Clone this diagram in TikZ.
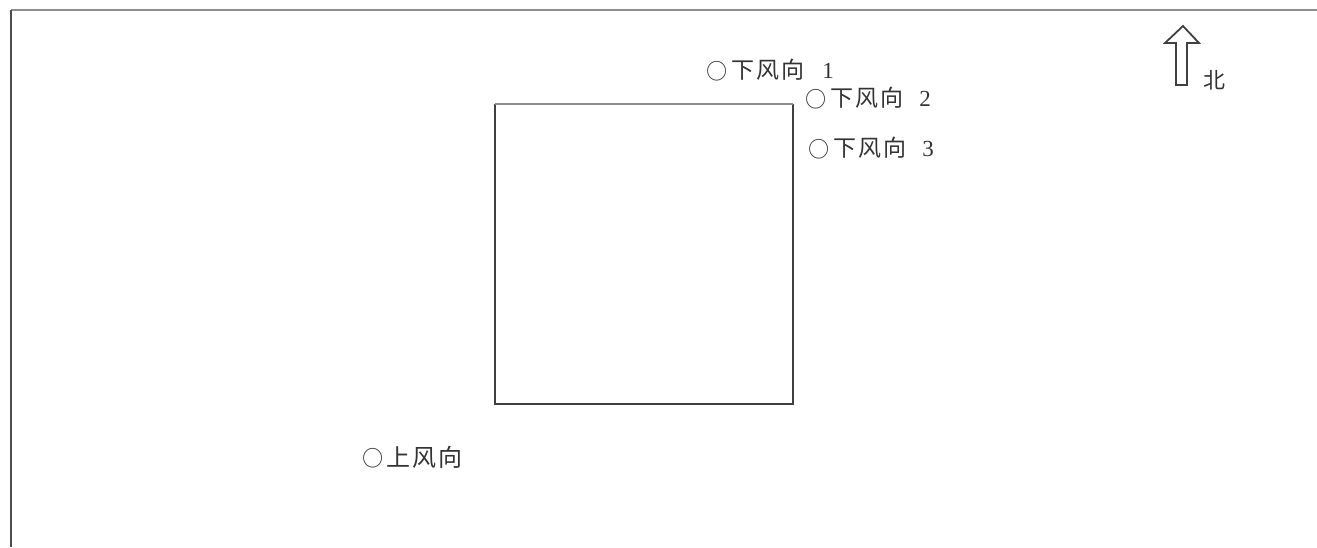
\documentclass[tikz,border=0pt]{standalone}
\usepackage{fontspec}
\newfontfamily\cjk{Noto Sans CJK SC}
\setmainfont{Liberation Serif}
\newcommand{\cjkword}[3]{{\cjk #1\hspace{2pt}#2\hspace{2pt}#3}}
\newcommand{\ring}{\raisebox{2.5pt}{\scalebox{0.85}{$\bigcirc$}}}
\begin{document}
\begin{tikzpicture}[x=1pt,y=-1pt,
  lbl/.style={anchor=west,inner sep=0pt,font=\fontsize{23}{23}\selectfont,text=black!80},
  frame/.style={line width=2pt,draw=black!70}]
\useasboundingbox (0,0) rectangle (1317,547);
% frame lines
\coordinate (tl) at (11,10);
\coordinate (tr) at (1317,10);
\coordinate (bl) at (11,547);
\draw[line width=2.2pt,draw=black!45] (tl) -- (tr);
\draw[frame] (tl) -- (bl);
% square
\coordinate (s1) at (495,104);
\coordinate (s2) at (793,104);
\coordinate (s3) at (793,404);
\coordinate (s4) at (495,404);
\draw[line width=2pt,draw=black!75] (s2) -- (s3) -- (s4) -- (s1);
\draw[line width=2.2pt,draw=black!45] (s1) -- (s2);
% labels
\node[lbl] (d1) at (706,70) {\ring\hspace{4pt}\cjkword{下}{风}{向}\hspace{18pt}1};
\node[lbl] (d2) at (805,98) {\ring\hspace{4pt}\cjkword{下}{风}{向}\hspace{16pt}2};
\node[lbl] (d3) at (808,148) {\ring\hspace{4pt}\cjkword{下}{风}{向}\hspace{16pt}3};
\node[lbl,font=\fontsize{24}{24}\selectfont] (u) at (362,457) {\ring\hspace{3pt}\cjkword{上}{风}{向}};
% north arrow
\draw[line width=1.8pt,draw=black!75,line join=miter]
  (1176,85) -- (1176,43) -- (1165,43) -- (1183,26) -- (1199,43) -- (1187,43) -- (1187,85) -- cycle;
\node[lbl,font=\fontsize{22}{22}\selectfont\cjk] (n) at (1203,80) {北};
\end{tikzpicture}
\end{document}
